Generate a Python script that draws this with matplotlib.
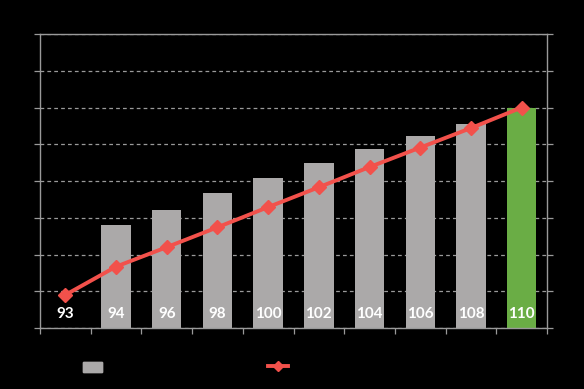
import matplotlib
matplotlib.use("Agg")
import matplotlib.pyplot as plt
from matplotlib.patches import Patch
from matplotlib.lines import Line2D

categories = ["93", "94", "96", "98", "100", "102", "104", "106", "108", "110"]
bar_values = [0, 2.80, 3.22, 3.66, 4.08, 4.48, 4.87, 5.23, 5.56, 6.00]
line_values = [0.90, 1.67, 2.20, 2.74, 3.29, 3.83, 4.38, 4.91, 5.44, 6.00]

GRAY = "#aba9a9"
GREEN = "#6aad45"
RED = "#f2514b"
AXIS = "#9a9a9a"

fig = plt.figure(figsize=(5.84, 3.89), dpi=100, facecolor="black")
ax = fig.add_axes([40/584, (389-328)/389, (547-40)/584, (328-34)/389])
ax.set_facecolor("black")

x = list(range(len(categories)))
colors = [GRAY] * (len(categories) - 1) + [GREEN]
ax.bar(x, bar_values, width=0.58, color=colors, zorder=2)
ax.plot(x, line_values, color=RED, lw=2.8, marker="D", markersize=7.5,
        markerfacecolor=RED, markeredgecolor=RED, zorder=3)

for xi, lab in zip(x, categories):
    ax.text(xi, 0.37, lab, ha="center", va="center", color="white",
            fontsize=11, fontweight="bold", family=["Lato", "DejaVu Sans"], zorder=4)

ax.set_xlim(-0.5, len(categories) - 0.5)
ax.set_ylim(0, 8)
ax.set_yticks(range(0, 9))
ax.yaxis.grid(True, color=AXIS, linestyle=(0, (3, 2.5)), lw=0.9, zorder=1)
ax.set_axisbelow(True)
ax.set_xticks([i - 0.5 for i in range(len(categories) + 1)])
ax.tick_params(axis="x", colors=AXIS, length=4, width=0.9, labelcolor="black", labelsize=1)
ax.tick_params(axis="y", colors=AXIS, length=4, width=0.9, labelcolor="black", labelsize=1,
               right=True)
ax.set_xticklabels([])
ax.set_yticklabels([])
for s in ax.spines.values():
    s.set_color(AXIS)
    s.set_linewidth(1.0)

h1 = Patch(facecolor=GRAY, edgecolor=GRAY)
h2 = Line2D([0], [0], color=RED, lw=2.8, marker="D", markersize=5,
            markerfacecolor=RED, markeredgecolor=RED)
leg1 = fig.legend([h1], [""], loc="center left", bbox_to_anchor=(70/584, 1 - 367.5/389),
                  frameon=False, handlelength=1.4, handleheight=0.7, labelcolor="black")
fig.add_artist(leg1)
leg2 = fig.legend([h2], [""], loc="center left", bbox_to_anchor=(255/584, 1 - 367/389),
                  frameon=False, handlelength=1.5, labelcolor="black")

fig.savefig("out.png", dpi=100, facecolor="black")
